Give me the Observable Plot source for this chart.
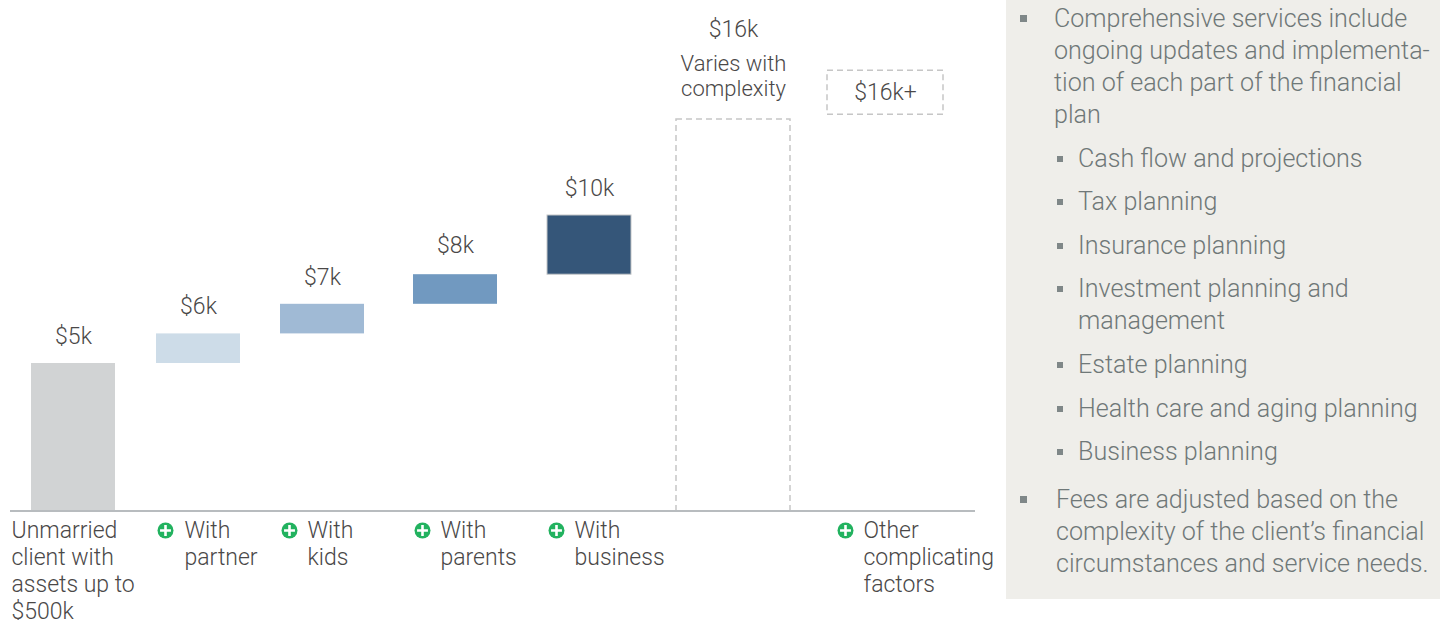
<!DOCTYPE html>
<html>
<head>
<meta charset="utf-8">
<script src="https://cdn.jsdelivr.net/npm/d3@7"></script>
<script src="https://cdn.jsdelivr.net/npm/@observablehq/plot@0.6"></script>
<style>
  html, body { margin: 0; background: #fff; }
  #page { position: relative; width: 1440px; height: 620px; overflow: hidden; font-family: Roboto, sans-serif; font-weight: 300; }
  #chart { position: absolute; left: 0; top: 0; }
  #panel { position: absolute; left: 1006px; top: 0; width: 434px; height: 599px; background: #efeeea; color: #6f7878; font-size: 25.1px; line-height: 32px; box-sizing: border-box; padding-top: 3px; }
  #panel div { position: relative; white-space: pre; }
  #panel .top { padding-left: 48px; }
  #panel .sub { padding-left: 72px; margin-top: 11.6px; }
  #panel .bullet { position: absolute; top: 12px; width: 7px; height: 7px; background: #7f8788; }
  #panel .top .bullet { left: 14px; }
  #panel .sub .bullet { left: 51px; top: 13px; width: 6px; height: 6px; }
</style>
</head>
<body>
<div id="page"><div id="chart"></div><div id="panel"></div></div>
<script>
// Fee build-up: a base fee, stacked increments, then the open-ended tiers.
const categories = ["base", "partner", "kids", "parents", "business", "comprehensive", "other"];
const lowValues = [0, 5, 6, 7, 8, 0, 16.3];
const highValues = [5, 6, 7, 8, 10, 16, 19.05];
const valueLabels = ["$5k", "$6k", "$7k", "$8k", "$10k", "$16k", "$16k+"];
const fillColors = ["#d1d3d4", "#cddce8", "#a0bad5", "#7199c0", "#355679", "none", "none"];
const axisLabels = [
  "Unmarried\nclient with\nassets up to\n$500k",
  "With\npartner",
  "With\nkids",
  "With\nparents",
  "With\nbusiness",
  "",
  "Other\ncomplicating\nfactors"
];
const complexityNote = "Varies with\ncomplexity";
const panelItems = [
  ["top", "Comprehensive services include\nongoing updates and implementa-\ntion of each part of the financial\nplan"],
  ["sub", "Cash flow and projections"],
  ["sub", "Tax planning"],
  ["sub", "Insurance planning"],
  ["sub", "Investment planning and\nmanagement"],
  ["sub", "Estate planning"],
  ["sub", "Health care and aging planning"],
  ["sub", "Business planning"],
  ["top", "Fees are adjusted based on the\ncomplexity of the client’s financial\ncircumstances and service needs."]
];

// Slot layout on the horizontal scale: each category owns a run of knots.
const barLeft = [31, 156, 280, 413, 547, 676, 827];
const barRight = [115, 240, 364, 497, 631, 790, 943];
const iconCentre = [null, 165, 289, 422, 556, null, 845];
const textStart = [11, 184, 307, 440, 574, null, 863];
const OFFSET = {left: 0, icon: 0.1, text: 0.2, centre: 0.3, right: 0.5};
const textOffset = (i) => (i === 0 ? -0.2 : OFFSET.text);
const knots = categories.flatMap((_, i) => [
  [i + OFFSET.left, barLeft[i]],
  [i + OFFSET.centre, (barLeft[i] + barRight[i]) / 2],
  [i + OFFSET.right, barRight[i]],
  ...(iconCentre[i] == null ? [] : [[i + OFFSET.icon, iconCentre[i]]]),
  ...(textStart[i] == null ? [] : [[i + textOffset(i), textStart[i]]])
]).sort((a, b) => a[0] - b[0]);

const rows = categories.map((name, i) => ({
  name, i, low: lowValues[i], high: highValues[i], label: valueLabels[i], fill: fillColors[i], text: axisLabels[i]
}));
const solid = rows.filter((d) => d.fill !== "none");
const open = rows.filter((d) => d.fill === "none");
const withIcon = rows.filter((d) => iconCentre[d.i] != null);
const withText = rows.filter((d) => d.text);

const ink = "#4a4848";
const textSize = 23;
const chart = Plot.plot({
  width: 1440,
  height: 620,
  marginLeft: 10,
  marginRight: 465,
  marginTop: 0,
  marginBottom: 109,
  style: {background: "transparent", fontFamily: "Roboto, sans-serif", fontWeight: 300},
  x: {type: "linear", axis: null, domain: knots.map((k) => k[0]), range: knots.map((k) => k[1])},
  // The scale is compressed above $10k so the open-ended tiers fit on the page.
  y: {type: "linear", axis: null, domain: [0, 10, 16, 20], range: [511, 215, 119, 55]},
  marks: [
    Plot.rect(solid, {
      x1: (d) => d.i + OFFSET.left, x2: (d) => d.i + OFFSET.right,
      y1: "low", y2: "high", fill: "fill",
      stroke: (d) => (d.name === "business" ? "#c4c6c8" : "none"), strokeWidth: 1
    }),
    Plot.rect(open, {
      x1: (d) => d.i + OFFSET.left, x2: (d) => d.i + OFFSET.right,
      y1: "low", y2: "high", fill: "none",
      stroke: "#c6c6c6", strokeWidth: 1.5, strokeDasharray: "6,4"
    }),
    Plot.ruleY([0], {stroke: "#b8bcbf", strokeWidth: 2, dy: -0.5}),
    Plot.text(solid.filter((d) => d.name !== "parents"), {
      x: (d) => d.i + OFFSET.centre, y: "high", text: "label", dy: -27,
      fontSize: textSize, fill: ink
    }),
    Plot.text(solid.filter((d) => d.name === "parents"), {
      x: (d) => d.i + OFFSET.centre, y: "high", text: "label", dy: -29,
      fontSize: textSize, fill: ink
    }),
    Plot.text(open.filter((d) => d.low === 0), {
      x: (d) => d.i + OFFSET.centre, y: "high", text: "label", dy: -90,
      fontSize: textSize, fill: ink
    }),
    Plot.text(open.filter((d) => d.low === 0), {
      x: (d) => d.i + OFFSET.centre, y: "high", text: () => complexityNote, dy: -44,
      fontSize: 22, lineHeight: 25 / 22, fill: ink
    }),
    Plot.text(open.filter((d) => d.low > 0), {
      x: (d) => d.i + OFFSET.centre, y: (d) => (d.low + d.high) / 2, text: "label",
      fontSize: textSize, fill: ink
    }),
    Plot.dot(withIcon, {
      x: (d) => d.i + OFFSET.icon, frameAnchor: "bottom", dy: 19, r: 8, fill: "#22b25f"
    }),
    Plot.dot(withIcon, {
      x: (d) => d.i + OFFSET.icon, frameAnchor: "bottom", dy: 19, r: 3.6, symbol: "plus",
      stroke: "#fff", strokeWidth: 2.6
    }),
    Plot.text(withText, {
      x: (d) => d.i + textOffset(d.i), frameAnchor: "bottom", dy: 7.5, text: "text",
      lineAnchor: "top", textAnchor: "start", fontSize: textSize, lineHeight: 27 / textSize, fill: ink
    })
  ]
});
document.getElementById("chart").appendChild(chart);

// Service list beside the chart.
const panel = document.getElementById("panel");
panelItems.forEach(([level, text], i) => {
  const item = document.createElement("div");
  item.className = level;
  item.textContent = text;
  if (i === panelItems.length - 1) {
    item.style.marginTop = "16px";
    item.style.paddingLeft = "50px";
  }
  const bullet = document.createElement("span");
  bullet.className = "bullet";
  item.appendChild(bullet);
  panel.appendChild(item);
});
</script>
</body>
</html>
